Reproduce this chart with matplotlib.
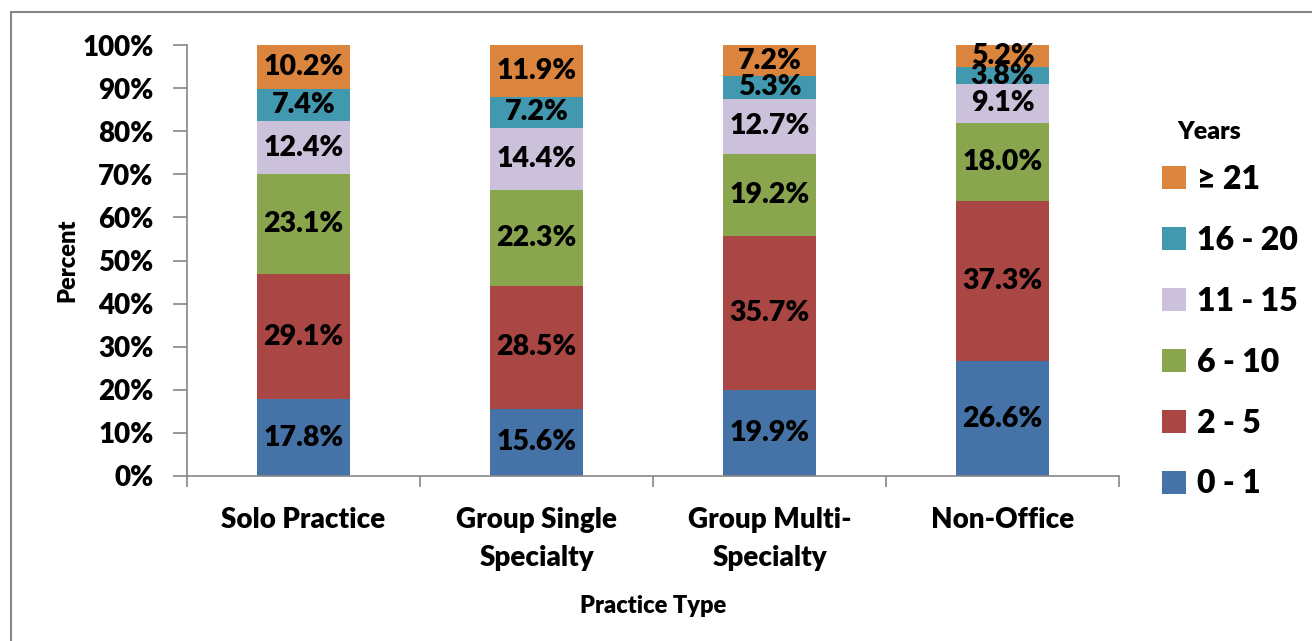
import matplotlib
matplotlib.use('Agg')
import matplotlib.pyplot as plt
from matplotlib.patches import Rectangle
import numpy as np

plt.rcParams['font.family'] = ['Lato', 'DejaVu Sans']
plt.rcParams['font.weight'] = 'heavy'

practice_types = ['Solo Practice', 'Group Single\nSpecialty', 'Group Multi-\nSpecialty', 'Non-Office']
year_groups = ['0 - 1', '2 - 5', '6 - 10', '11 - 15', '16 - 20', '\u2265 21']
colors = ['#4572A7', '#AA4643', '#89A54E', '#CCC1DA', '#4198AF', '#DB843D']

yrs_0_1 = [17.8, 15.6, 19.9, 26.6]
yrs_2_5 = [29.1, 28.5, 35.7, 37.3]
yrs_6_10 = [23.1, 22.3, 19.2, 18.0]
yrs_11_15 = [12.4, 14.4, 12.7, 9.1]
yrs_16_20 = [7.4, 7.2, 5.3, 3.8]
yrs_21_up = [10.2, 11.9, 7.2, 5.2]
series = [yrs_0_1, yrs_2_5, yrs_6_10, yrs_11_15, yrs_16_20, yrs_21_up]

W = 'heavy'
fig = plt.figure(figsize=(13.12, 6.41), dpi=100)
ax = fig.add_axes([187 / 1312, 1 - 476 / 641, 932 / 1312, 431 / 641])

# chart frame (runs off the right and bottom edge of the image)
fig.patches.append(Rectangle((11 / 1312, -0.1), 1.2, 1 - 12 / 641 + 0.1,
                             transform=fig.transFigure, fill=False,
                             edgecolor='#868686', linewidth=1.5, zorder=0))

x = np.arange(len(practice_types))
bottom = np.zeros(len(practice_types))
handles = []
for vals, col, name in zip(series, colors, year_groups):
    bars = ax.bar(x, vals, width=0.4, bottom=bottom, color=col, label=name)
    handles.append(bars)
    for xi, b, v in zip(x, bottom, vals):
        ax.text(xi, b + v / 2, f'{v:.1f}%', ha='center', va='center',
                fontsize=20.5, fontweight=W, color='black')
    bottom += np.array(vals)

ax.set_xlim(-0.5, len(practice_types) - 0.5)
ax.set_ylim(0, 100)
ax.set_yticks(np.arange(0, 101, 10))
ax.set_yticklabels([f'{v}%' for v in range(0, 101, 10)], fontsize=20, fontweight=W)
ax.set_xticks(x)
ax.set_xticklabels(practice_types, fontsize=20, fontweight=W, linespacing=1.6)
ax.set_xticks(np.arange(-0.5, len(practice_types)), minor=True)
ax.tick_params(axis='x', which='major', length=0, pad=22)
ax.tick_params(axis='x', which='minor', length=8, color='#868686', width=1.2)
ax.tick_params(axis='y', length=10, color='#868686', width=1.2, pad=14)

for side in ['top', 'right']:
    ax.spines[side].set_visible(False)
for side in ['left', 'bottom']:
    ax.spines[side].set_color('#868686')
    ax.spines[side].set_linewidth(1.2)

ax.set_ylabel('Percent', fontsize=17, fontweight=W, labelpad=3)
ax.set_xlabel('Practice Type', fontsize=17, fontweight=W, labelpad=17)

leg = ax.legend(handles[::-1], year_groups[::-1],
                loc='upper left', bbox_to_anchor=(1133 / 1312, 1 - 136 / 641),
                bbox_transform=fig.transFigure, frameon=False,
                prop={'size': 23, 'weight': W}, handlelength=0.75, handleheight=0.75,
                handletextpad=0.35, labelspacing=1.0)
fig.text(1177 / 1312, 1 - 132 / 641, 'Years', fontsize=18, fontweight=W,
         ha='left', va='center')

plt.savefig('out.png', dpi=100)
plt.close()
